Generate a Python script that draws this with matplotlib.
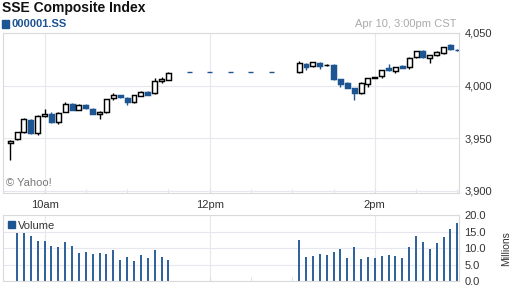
import matplotlib
matplotlib.use("Agg")
import matplotlib.pyplot as plt
from matplotlib.patches import Rectangle, Patch
import pandas as pd

plt.rcParams['font.family'] = ['Liberation Sans', 'DejaVu Sans']

day = "2013-04-10 "

# 5-minute bars, timestamps are bar end times
candle_times = ["09:35", "09:40", "09:45", "09:50", "09:55", "10:00", "10:05", "10:10",
                "10:15", "10:20", "10:25", "10:30", "10:35", "10:40", "10:45", "10:50",
                "10:55", "11:00", "11:05", "11:10", "11:15", "11:20", "11:25", "11:30",
                "13:05", "13:10", "13:15", "13:20", "13:25", "13:30", "13:35", "13:40",
                "13:45", "13:50", "13:55", "14:00", "14:05", "14:10", "14:15", "14:20",
                "14:25", "14:30", "14:35", "14:40", "14:45", "14:50", "14:55", "15:00"]
opens = [3945.3, 3949.3, 3955.7, 3967.7, 3954.8, 3970.9, 3972.8, 3965.2,
         3975.3, 3982.6, 3976.9, 3981.3, 3977.8, 3972.8, 3974.7, 3988.0,
         3990.8, 3988.6, 3984.2, 3990.2, 3994.0, 3992.7, 4004.4, 4005.4,
         4012.7, 4020.6, 4018.4, 4021.5, 4019.3, 4019.6, 4006.0, 4002.8,
         3997.5, 3992.7, 4001.3, 4007.6, 4008.9, 4016.5, 4013.6, 4018.4,
         4017.4, 4026.9, 4032.6, 4026.5, 4029.1, 4030.7, 4038.3, 4034.0]
highs = [3948.5, 3956.2, 3968.8, 3968.2, 3971.8, 3977.8, 3974.7, 3974.8,
         3984.8, 3983.1, 3982.6, 3982.3, 3978.3, 3975.5, 3987.5, 3993.3,
         3991.3, 3989.1, 3991.3, 3994.5, 3994.5, 4007.0, 4007.9, 4013.3,
         4023.7, 4021.1, 4022.7, 4022.0, 4020.3, 4020.1, 4006.5, 4003.3,
         3998.0, 4003.0, 4007.5, 4008.0, 4015.1, 4020.3, 4017.9, 4019.2,
         4027.0, 4033.1, 4033.9, 4029.3, 4032.5, 4036.9, 4039.6, 4034.6]
lows = [3929.4, 3948.8, 3955.2, 3954.3, 3953.2, 3970.4, 3964.7, 3963.3,
        3974.8, 3976.4, 3976.4, 3977.5, 3972.6, 3968.6, 3974.2, 3986.4,
        3988.4, 3981.6, 3983.7, 3989.7, 3990.9, 3992.2, 4002.8, 4004.9,
        4012.2, 4014.9, 4017.4, 4015.5, 4019.0, 4005.5, 3998.4, 3997.6,
        3986.4, 3992.2, 3998.4, 4007.2, 4007.0, 4014.1, 4011.7, 4016.4,
        4015.8, 4026.4, 4026.4, 4021.8, 4028.6, 4030.2, 4034.3, 4032.8]
closes = [3947.7, 3955.7, 3968.3, 3954.8, 3970.9, 3972.8, 3965.2, 3974.3,
          3982.3, 3976.9, 3981.3, 3978.5, 3973.1, 3975.0, 3987.0, 3990.8,
          3988.9, 3984.8, 3990.8, 3994.0, 3991.4, 4004.7, 4006.6, 4012.3,
          4021.8, 4017.4, 4022.2, 4018.4, 4019.3, 4006.0, 4001.9, 3998.1,
          3992.7, 4002.5, 4007.0, 4007.6, 4014.6, 4014.6, 4017.4, 4017.1,
          4026.5, 4032.6, 4026.9, 4028.8, 4032.0, 4036.4, 4034.8, 4033.4]

# lunch break: flat markers at last morning close
lunch_times = ["11:45", "12:00", "12:15", "12:30", "12:45"]
lunch_level = 4012.6

# volume (millions); first bar of the day has none
volume_times = candle_times[1:]
volumes = [14.5, 14.5, 13.8, 12.3, 12.3, 10.8, 10.5, 12.0, 10.8, 8.6, 8.9, 8.3,
           8.6, 8.3, 9.5, 6.5, 7.4, 6.2, 8.0, 7.1, 9.5, 7.4, 6.5,
           12.6, 7.4, 7.7, 8.3, 8.0, 8.9, 9.8, 7.1, 10.2, 6.8, 7.4, 7.1,
           7.7, 8.0, 7.7, 7.1, 10.2, 13.8, 12.0, 9.8, 11.7, 13.5, 15.9, 17.7]

price_ticks = [3900, 3950, 4000, 4050]
vol_ticks = [0, 5, 10, 15, 20]
hour_ticks = ["10:00", "12:00", "14:00"]
hour_labels = ["10am", "12pm", "2pm"]

blue = "#1d5492"
grid_c = "#e6e7ef"
spine_c = "#dadada"
text_c = "#333333"

def ts(lst):
    return pd.to_datetime([day + t for t in lst])

ct = ts(candle_times)
fig = plt.figure(figsize=(5.12, 2.88), dpi=100)
ax = fig.add_axes([3.3/512, 1-193/288, (459-3.3)/512, 160/288])
axv = fig.add_axes([3.3/512, 1-281/288, (459-3.3)/512, (281-215.3)/288])

width = 3.6 / 1440
for t, o, h, l, c in zip(ct, opens, highs, lows, closes):
    if c < o:
        face, edge = blue, blue
    elif c > o:
        face, edge = "white", "black"
    else:
        face, edge = "black", "black"
    ax.vlines(t, l, h, color=edge, lw=1.0, zorder=2)
    bot = min(o, c)
    hgt = max(abs(c - o), 0.4)
    ax.bar(t, hgt, width=width, bottom=bot, color=face, edgecolor=edge,
           linewidth=1.05, zorder=3)

lt = ts(lunch_times)
ax.hlines([lunch_level] * len(lt), lt - pd.Timedelta(minutes=1.8),
          lt + pd.Timedelta(minutes=1.8), color=blue, lw=1.0)

axv.vlines(ts(volume_times), 0, volumes, color=blue, lw=1.3)

xmin = pd.Timestamp(day + "09:31:24")
xmax = pd.Timestamp(day + "15:01:12")
minor = pd.date_range(day + "09:30", day + "15:00", freq="30min")
for a in (ax, axv):
    a.set_xlim(xmin, xmax)
    a.set_xticks(ts(hour_ticks))
    a.set_xticks(minor, minor=True)
    a.grid(True, which="major", color=grid_c, lw=0.8)
    a.set_axisbelow(True)
    a.yaxis.tick_right()
    a.tick_params(axis="y", length=0, pad=4, labelsize=8, labelcolor=text_c)
    a.tick_params(axis="x", which="both", direction="in", length=3,
                  color="#dddddd", labelsize=8, labelcolor=text_c)
    for s in a.spines.values():
        s.set_color(spine_c)
        s.set_linewidth(0.8)

ax.set_ylim(3898, 4050)
ax.set_yticks(price_ticks)
ax.set_yticklabels([f"{v:,}" for v in price_ticks])
ax.set_xticklabels(hour_labels)
ax.tick_params(axis="x", pad=5)

axv.set_ylim(0, 20)
axv.set_yticks(vol_ticks)
axv.set_yticklabels([f"{v:.1f}" for v in vol_ticks])
axv.set_xticklabels([])
axv.yaxis.set_label_position("right")
axv.set_ylabel("Millions", fontsize=7.5, color=text_c, labelpad=11)
axv.legend(handles=[Patch(color=blue, label="Volume")], loc="upper left",
           bbox_to_anchor=(-0.004, 1.02), frameon=False, fontsize=8,
           handlelength=0.6, handleheight=0.6, handletextpad=0.3,
           borderaxespad=0.2, labelcolor=text_c)

ax.text(0.005, 0.06, "\u00a9 Yahoo!", transform=ax.transAxes, fontsize=8,
        color="#777777", va="center")

fig.text(2/512, 1-8/288, "SSE Composite Index", fontsize=10, weight="bold",
         color="#111111", va="center")
fig.add_artist(Rectangle((2/512, 1-27.5/288), 7/512, 7/288,
                         transform=fig.transFigure, color=blue))
fig.text(12/512, 1-24/288, "000001.SS", fontsize=8, weight="bold",
         color=blue, va="center")
fig.text(456/512, 1-24/288, "Apr 10, 3:00pm CST", fontsize=8,
         color="#aaaaaa", va="center", ha="right")

fig.savefig("out.png", dpi=100)
